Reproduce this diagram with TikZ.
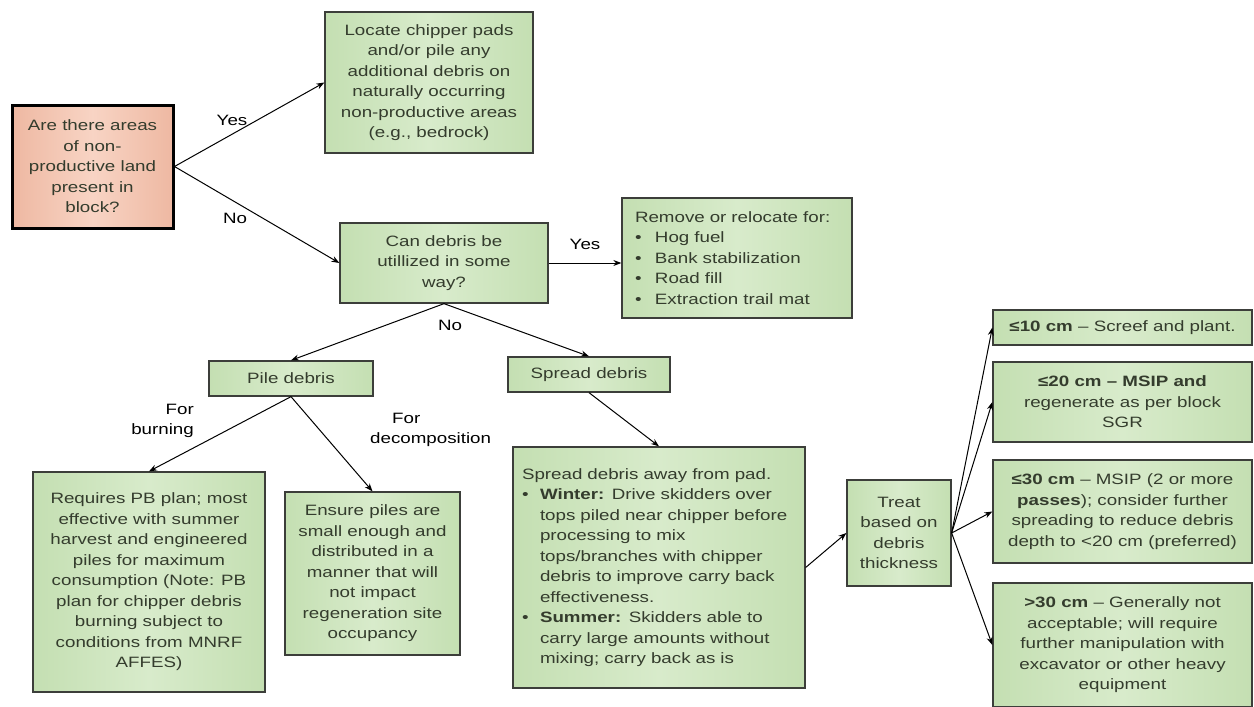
\documentclass[tikz,border=0pt]{standalone}
\usepackage{fontspec}
\setmainfont{Liberation Sans}
\newfontfamily\bxfont[FakeStretch=1.25]{Liberation Sans}
\usetikzlibrary{arrows.meta}
\definecolor{boxtext}{RGB}{52,60,45}
\definecolor{gmid}{RGB}{216,235,203}
\definecolor{gedge}{RGB}{196,223,178}
\definecolor{pmid}{RGB}{248,212,196}
\definecolor{pedge}{RGB}{238,184,162}
\definecolor{bord}{RGB}{60,62,58}
\newcommand\bul{\makebox[18pt][l]{\textbullet}}
\newcommand\bulr{\makebox[20pt][l]{\textbullet}}
\begin{document}
\begin{tikzpicture}[x=1pt,y=-1pt,
  gbox/.style={draw=bord, line width=1.3pt, left color=gedge, right color=gedge, middle color=gmid,
    text=boxtext, font=\bxfont\fontsize{15}{20.5}\selectfont, inner sep=0pt, align=center},
  pbox/.style={gbox, draw=black, line width=3pt, left color=pedge, right color=pedge, middle color=pmid},
  lbl/.style={font=\bxfont\fontsize{15}{20}\selectfont, text=black, inner sep=0pt},
  arr/.style={draw=black, line width=1pt, -{Stealth[length=8pt,width=6pt]}}]
\useasboundingbox (0,0) rectangle (1254,707);

\node[pbox, minimum width=161pt, minimum height=123pt] (q1) at (92.5,166.5)
  {Are there areas\\of non-\\productive land\\present in\\block?};
\node[gbox, minimum width=208pt, minimum height=141pt] (locate) at (429,82.5)
  {Locate chipper pads\\and/or pile any\\additional debris on\\naturally occurring\\non-productive areas\\(e.g., bedrock)};
\node[gbox, minimum width=208pt, minimum height=80pt] (util) at (444,263)
  {Can debris be\\utillized in some\\way?};
\node[gbox, text width=204pt, inner xsep=13pt, minimum height=120pt, align=left] (remove) at (737,258)
  {Remove or relocate for:\\\bulr Hog fuel\\\bulr Bank stabilization\\\bulr Road fill\\\bulr Extraction trail mat};
\node[gbox, minimum width=164pt, minimum height=35pt] (pile) at (291,378.5) {Pile debris};
\node[gbox, minimum width=162pt, minimum height=35pt] (spread) at (589,374.5) {Spread debris};
\node[gbox, minimum width=232pt, minimum height=220pt] (burn) at (149,582)
  {Requires PB plan; most\\effective with summer\\harvest and engineered\\piles for maximum\\consumption (Note: PB\\plan for chipper debris\\burning subject to\\conditions from MNRF\\AFFES)};
\node[gbox, minimum width=175pt, minimum height=163pt] (ensure) at (372.5,573.5)
  {Ensure piles are\\small enough and\\distributed in a\\manner that will\\not impact\\regeneration site\\occupancy};
\node[gbox, text width=274pt, inner xsep=9pt, minimum height=241pt, align=left] (spreadbox) at (659,567.5)
  {Spread debris away from pad.\\
   \bul\textbf{Winter:} Drive skidders over\\
   \hspace*{18pt}tops piled near chipper before\\
   \hspace*{18pt}processing to mix\\
   \hspace*{18pt}tops/branches with chipper\\
   \hspace*{18pt}debris to improve carry back\\
   \hspace*{18pt}effectiveness.\\
   \bul\textbf{Summer:} Skidders able to\\
   \hspace*{18pt}carry large amounts without\\
   \hspace*{18pt}mixing; carry back as is};
\node[gbox, minimum width=104pt, minimum height=106pt] (treat) at (899,533)
  {Treat\\based on\\debris\\thickness};
\node[gbox, minimum width=259pt, minimum height=35pt] (t10) at (1122.5,327.5)
  {\textbf{≤10 cm} – Screef and plant.};
\node[gbox, minimum width=259pt, minimum height=80pt] (t20) at (1122.5,402)
  {\textbf{≤20 cm – MSIP and}\\regenerate as per block\\SGR};
\node[gbox, minimum width=259pt, minimum height=103pt] (t30) at (1122.5,511.5)
  {\textbf{≤30 cm} – MSIP (2 or more\\\textbf{passes}); consider further\\spreading to reduce debris\\depth to <20 cm (preferred)};
\node[gbox, minimum width=259pt, minimum height=124pt] (t40) at (1122.5,645)
  {\textbf{>30 cm} – Generally not\\acceptable; will require\\further manipulation with\\excavator or other heavy\\equipment};

\draw[arr] (q1.east) -- (locate.west);
\draw[arr] (q1.east) -- (util.west);
\draw[arr] (util.east) -- (util.east -| remove.west);
\draw[arr] (util.south) -- (pile.north);
\draw[arr] (util.south) -- (spread.north);
\draw[arr] (pile.south) -- (burn.north);
\draw[arr] (pile.south) -- (ensure.north);
\draw[arr] (spread.south) -- (spreadbox.north);
\draw[arr] (spreadbox.east) -- (treat.west);
\draw[arr] (treat.east) -- (t10.west);
\draw[arr] (treat.east) -- (t20.west);
\draw[arr] (treat.east) -- (t30.west);
\draw[arr] (treat.east) -- (t40.west);

\node[lbl] (yes1) at (232,120) {Yes};
\node[lbl] (no1) at (235,218) {No};
\node[lbl] (yes2) at (585,244) {Yes};
\node[lbl] (no2) at (450,325) {No};
\node[lbl, align=right, anchor=east] (forburn) at (194,421) {For\\burning};
\node[lbl, align=left, anchor=west] (fordec) at (370,430) {\hspace*{22pt}For\\decomposition};
\end{tikzpicture}
\end{document}
